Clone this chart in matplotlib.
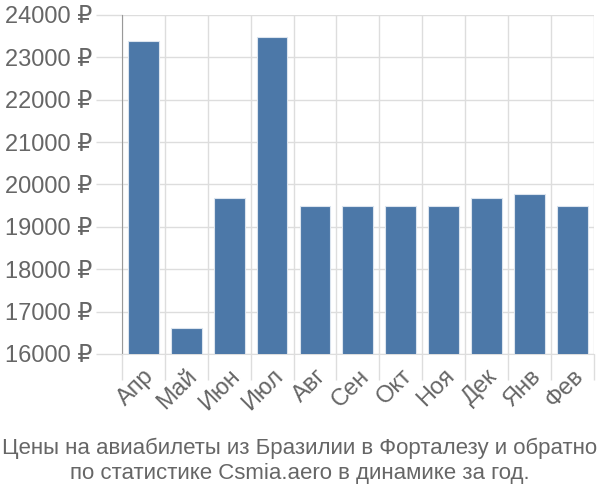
import numpy as np
import matplotlib.pyplot as plt
from matplotlib.ticker import FixedLocator, FuncFormatter

plt.rcParams['font.family'] = ['Liberation Sans', 'DejaVu Sans']

months = ['Апр', 'Май', 'Июн', 'Июл', 'Авг', 'Сен', 'Окт', 'Ноя', 'Дек', 'Янв', 'Фев']
prices = [23380, 16620, 19680, 23470, 19500, 19500, 19500, 19500, 19680, 19770, 19500]
yticks = [16000, 17000, 18000, 19000, 20000, 21000, 22000, 23000, 24000]
title = 'Цены на авиабилеты из Бразилии в Форталезу и обратно\nпо статистике Csmia.aero в динамике за год.'

fig = plt.figure(figsize=(6, 5), dpi=100)
ax = fig.add_axes([0.203, 0.292, 0.787, 0.678])

x = np.arange(len(months))
ax.bar(x, prices, width=0.72, color='#4c78a8', edgecolor='#dbe4ee', linewidth=0.8, zorder=3)

ax.set_xlim(-0.5, len(months) - 0.5)
ax.set_ylim(16000, 24000)
ax.set_yticks(yticks)
ax.yaxis.set_major_formatter(FuncFormatter(lambda v, p: f'{int(v)} ₽'))
ax.set_xticks(x)
ax.set_xticklabels(months, rotation=45, ha='right', rotation_mode='anchor')
ax.xaxis.set_minor_locator(FixedLocator(np.arange(-0.5, len(months), 1.0)))

ax.grid(True, which='minor', axis='x', color='#dddddd', linewidth=1, zorder=0)
ax.grid(True, which='major', axis='y', color='#dddddd', linewidth=1, zorder=0)

ax.tick_params(axis='x', which='major', length=0, labelsize=17, colors='#666666', pad=8)
ax.tick_params(axis='x', which='minor', length=19, color='#dddddd', width=1)
ax.tick_params(axis='y', length=19, color='#dddddd', width=1, labelsize=17, labelcolor='#666666', pad=2)

for s in ['top', 'right']:
    ax.spines[s].set_visible(False)
ax.spines['left'].set_color('#999999')
ax.spines['bottom'].set_color('#dddddd')

fig.text(0.5, 0.033, title, ha='center', va='bottom', fontsize=16, color='#666666', linespacing=1.2)

fig.savefig('out.png', dpi=100)
